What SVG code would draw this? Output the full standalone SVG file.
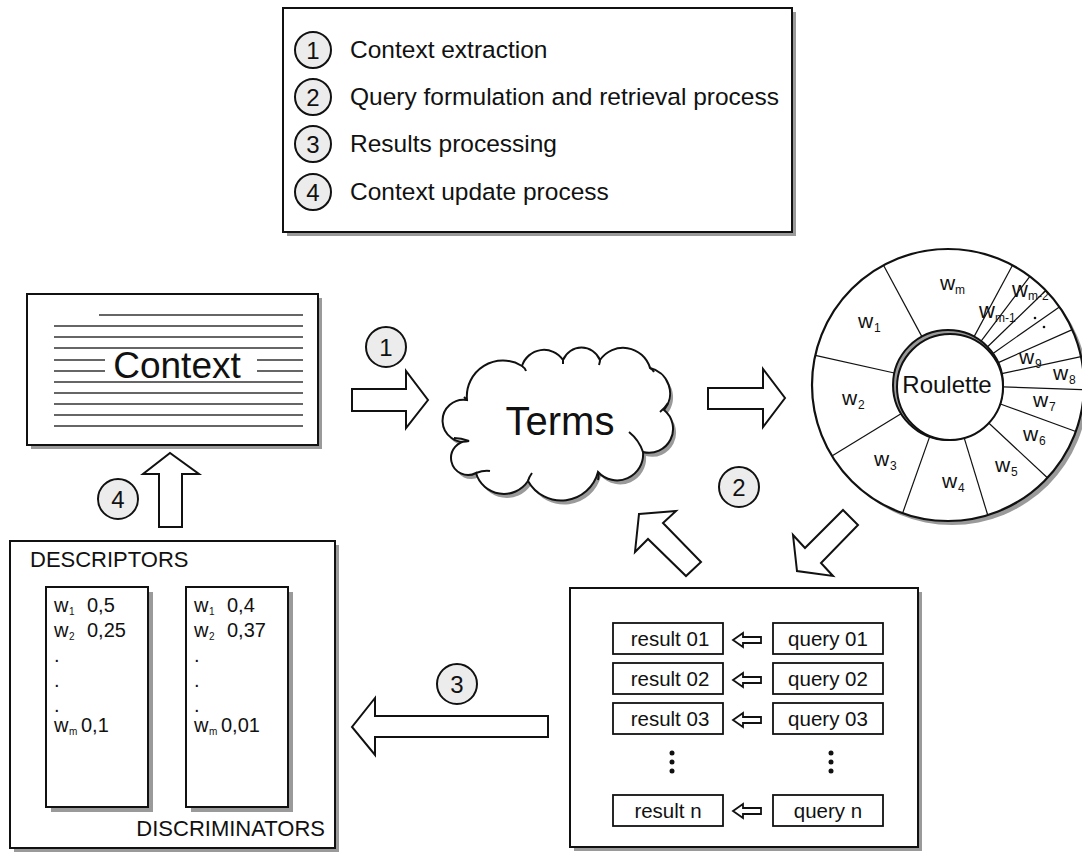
<svg xmlns="http://www.w3.org/2000/svg" width="1082" height="852" viewBox="0 0 1082 852">
<style>
.box{fill:#fff;stroke:#111;stroke-width:2}
.sh{fill:#9a9a9a;stroke:none}
.ln{stroke:#333;stroke-width:1.3}
.t{font-family:"Liberation Sans",Arial,sans-serif;fill:#111}
.num{fill:#ececec;stroke:#111;stroke-width:2}
.arr{fill:#fff;stroke:#111;stroke-width:2;stroke-linejoin:miter}
.sp{stroke:#111;stroke-width:1.2}
</style>
<rect width="1082" height="852" fill="#fff"/>

<g id="legend">
<rect class="sh" x="287" y="12" width="509" height="224"/>
<rect class="box" x="283" y="8" width="509" height="224"/>
<circle class="num" cx="313" cy="50" r="18"/><text class="t" x="313" y="58.5" font-size="24" text-anchor="middle">1</text>
<circle class="num" cx="313" cy="97" r="18"/><text class="t" x="313" y="105.5" font-size="24" text-anchor="middle">2</text>
<circle class="num" cx="313" cy="144" r="18"/><text class="t" x="313" y="152.5" font-size="24" text-anchor="middle">3</text>
<circle class="num" cx="313" cy="192" r="18"/><text class="t" x="313" y="200.5" font-size="24" text-anchor="middle">4</text>
<text class="t" x="350" y="58" font-size="24.5">Context extraction</text>
<text class="t" x="350" y="105" font-size="24.5">Query formulation and retrieval process</text>
<text class="t" x="350" y="152" font-size="24.5">Results processing</text>
<text class="t" x="350" y="200" font-size="24.5">Context update process</text>
</g>

<g id="context">
<rect class="sh" x="31" y="298" width="291" height="151"/>
<rect class="box" x="27" y="294" width="291" height="151"/>
<line class="ln" x1="99" y1="315" x2="303" y2="315"/>
<line class="ln" x1="54" y1="326" x2="303" y2="326"/>
<line class="ln" x1="54" y1="337" x2="303" y2="337"/>
<line class="ln" x1="54" y1="348" x2="303" y2="348"/>
<line class="ln" x1="54" y1="360" x2="105" y2="360"/>
<line class="ln" x1="257" y1="360" x2="303" y2="360"/>
<line class="ln" x1="54" y1="371" x2="105" y2="371"/>
<line class="ln" x1="257" y1="371" x2="303" y2="371"/>
<line class="ln" x1="54" y1="382" x2="303" y2="382"/>
<line class="ln" x1="54" y1="393" x2="303" y2="393"/>
<line class="ln" x1="54" y1="404" x2="303" y2="404"/>
<line class="ln" x1="54" y1="415" x2="303" y2="415"/>
<line class="ln" x1="54" y1="426" x2="303" y2="426"/>
<rect x="108" y="350" width="146" height="30" fill="#fff"/>
<text class="t" x="177" y="378" font-size="37" text-anchor="middle">Context</text>
</g>

<g id="terms">
<path class="sh" transform="translate(3,4)" d="M467,400 A36,36 0 0,1 522,366 A23,23 0 0,1 563,360 A20,20 0 0,1 600,360 A28,28 0 0,1 650,368 A26,26 0 0,1 664,410 A24,24 0 0,1 643,452 A26,26 0 0,1 598,472 A38,38 0 0,1 528,481 A29,29 0 0,1 476,473 A17,17 0 1,1 469,441 A21,21 0 1,1 467,400 Z"/>
<path fill="#fff" stroke="#111" stroke-width="2" d="M467,400 A36,36 0 0,1 522,366 A23,23 0 0,1 563,360 A20,20 0 0,1 600,360 A28,28 0 0,1 650,368 A26,26 0 0,1 664,410 A24,24 0 0,1 643,452 A26,26 0 0,1 598,472 A38,38 0 0,1 528,481 A29,29 0 0,1 476,473 A17,17 0 1,1 469,441 A21,21 0 1,1 467,400 Z"/>
<path fill="none" stroke="#111" stroke-width="2" d="M522,366 q3,2 4,5 M563,360 q0,2 0,4 M600,360 q0,2 -1,5 M650,368 q3,2 4,4 M668,403 q-3,5 -8,9 M643,452 q-4,-12 -14,-20 M598,472 q1,4 0,8 M528,481 q1,-4 4,-8 M476,473 q8,-3 14,-2 M469,441 q-8,-3 -15,-3 M467,400 q-2,-2 -3,-3"/>
<text class="t" x="560" y="435" font-size="40" text-anchor="middle">Terms</text>
</g>

<g id="roulette">
<circle class="sh" cx="952" cy="389" r="136"/>
<circle cx="948" cy="385" r="136" fill="#fff" stroke="#111" stroke-width="2.2"/>
<g class="sp">
<line x1="921.9" y1="336.6" x2="883.5" y2="265.3"/>
<line x1="974.1" y1="336.6" x2="1012.5" y2="265.3"/>
<line x1="981.1" y1="341.1" x2="1029.9" y2="276.4"/>
<line x1="987.6" y1="346.8" x2="1045.8" y2="290.5"/>
<line x1="993.0" y1="353.4" x2="1059.4" y2="306.9"/>
<line x1="998.3" y1="362.6" x2="1072.3" y2="329.6"/>
<line x1="1001.8" y1="373.6" x2="1081.0" y2="356.7"/>
<line x1="1002.9" y1="386.9" x2="1083.9" y2="389.7"/>
<line x1="999.7" y1="403.8" x2="1075.8" y2="431.5"/>
<line x1="988.2" y1="422.5" x2="1047.4" y2="477.8"/>
<line x1="964.1" y1="437.6" x2="987.7" y2="515.0"/>
<line x1="929.6" y1="436.9" x2="902.6" y2="513.2"/>
<line x1="901.0" y1="413.7" x2="831.9" y2="455.9"/>
<line x1="894.3" y1="373.0" x2="815.3" y2="355.4"/>
</g>
<circle cx="948" cy="385" r="55" fill="#999" stroke="#111" stroke-width="2"/>
<circle cx="950" cy="387" r="53" fill="#fff" stroke="#111" stroke-width="2"/>
<text class="t" x="947" y="393" font-size="24" text-anchor="middle">Roulette</text>
<g class="t" font-size="21">
<text x="940" y="290">w</text><text x="955" y="294" font-size="12">m</text>
<text x="858" y="328">w</text><text x="874" y="332" font-size="12">1</text>
<text x="842" y="405">w</text><text x="858" y="409" font-size="12">2</text>
<text x="874" y="466">w</text><text x="890" y="470" font-size="12">3</text>
<text x="942" y="488">w</text><text x="958" y="492" font-size="12">4</text>
<text x="995" y="472">w</text><text x="1011" y="476" font-size="12">5</text>
<text x="1023" y="441">w</text><text x="1039" y="445" font-size="12">6</text>
<text x="1033" y="407">w</text><text x="1049" y="411" font-size="12">7</text>
<text x="1053" y="380">w</text><text x="1069" y="384" font-size="12">8</text>
<text x="1019" y="364">w</text><text x="1035" y="368" font-size="12">9</text>
<text x="979" y="318" font-size="22">w</text><text x="995" y="322" font-size="12">m-1</text>
<text x="1012" y="297" font-size="22">w</text><text x="1028" y="300" font-size="12">m-2</text>
<circle cx="1035" cy="318" r="1.3"/><circle cx="1044" cy="327" r="1.3"/>
</g>
</g>

<g id="descriptors">
<rect class="sh" x="14" y="545" width="325" height="307"/>
<rect class="box" x="10" y="541" width="325" height="307"/>
<text class="t" x="30" y="567" font-size="22">DESCRIPTORS</text>
<text class="t" x="325" y="836" font-size="22" text-anchor="end">DISCRIMINATORS</text>
<rect class="sh" x="51" y="592" width="102" height="220"/>
<rect class="box" x="46" y="587" width="102" height="220"/>
<rect class="sh" x="191" y="592" width="102" height="220"/>
<rect class="box" x="186" y="587" width="102" height="220"/>
<g class="t" font-size="20">
<text x="54" y="612">w</text><text x="69" y="615" font-size="10">1</text><text x="87" y="612">0,5</text>
<text x="54" y="637">w</text><text x="69" y="640" font-size="10">2</text><text x="87" y="637">0,25</text>
<text x="54" y="662">.</text><text x="54" y="687">.</text><text x="54" y="712">.</text>
<text x="54" y="732">w</text><text x="69" y="735" font-size="10">m</text><text x="81" y="732">0,1</text>
<text x="194" y="612">w</text><text x="209" y="615" font-size="10">1</text><text x="227" y="612">0,4</text>
<text x="194" y="637">w</text><text x="209" y="640" font-size="10">2</text><text x="227" y="637">0,37</text>
<text x="194" y="662">.</text><text x="194" y="687">.</text><text x="194" y="712">.</text>
<text x="194" y="732">w</text><text x="209" y="735" font-size="10">m</text><text x="221" y="732">0,01</text>
</g>
</g>

<g id="results">
<rect class="sh" x="574" y="592" width="348" height="259"/>
<rect class="box" x="570" y="588" width="348" height="259"/>
<g fill="#fff" stroke="#111" stroke-width="1.8">
<rect x="613" y="623" width="110" height="31"/><rect x="773" y="623" width="110" height="31"/>
<rect x="613" y="663" width="110" height="31"/><rect x="773" y="663" width="110" height="31"/>
<rect x="613" y="703" width="110" height="31"/><rect x="773" y="703" width="110" height="31"/>
<rect x="613" y="795" width="110" height="31"/><rect x="773" y="795" width="110" height="31"/>
</g>
<g class="t" font-size="20.5" text-anchor="middle">
<text x="670" y="646">result 01</text><text x="828" y="646">query 01</text>
<text x="670" y="686">result 02</text><text x="828" y="686">query 02</text>
<text x="670" y="726">result 03</text><text x="828" y="726">query 03</text>
<text x="668" y="818">result n</text><text x="828" y="818">query n</text>
</g>
<g fill="#111">
<circle cx="672" cy="753" r="2.5"/><circle cx="672" cy="762" r="2.5"/><circle cx="672" cy="771" r="2.5"/>
<circle cx="831" cy="753" r="2.5"/><circle cx="831" cy="762" r="2.5"/><circle cx="831" cy="771" r="2.5"/>
</g>
<g fill="#fff" stroke="#111" stroke-width="1.8">
<path d="M733,640 L743,633 L743,637 L761,637 L761,643 L743,643 L743,647 Z"/>
<path d="M733,680 L743,673 L743,677 L761,677 L761,683 L743,683 L743,687 Z"/>
<path d="M733,720 L743,713 L743,717 L761,717 L761,723 L743,723 L743,727 Z"/>
<path d="M733,811 L743,804 L743,808 L761,808 L761,814 L743,814 L743,818 Z"/>
</g>
</g>

<g id="connectors">
<path class="arr" d="M352,389 L406,389 L406,371 L428,400 L406,428 L406,411 L352,411 Z"/>
<path class="arr" d="M708,388 L763,388 L763,369 L785,398 L763,427 L763,409 L708,409 Z"/>
<path class="arr" d="M843,510 L858,525 L821,563 L833,576 L797,571 L793,535 L805,548 Z"/>
<path class="arr" d="M639,514 L676,511 L663,523 L701,562 L686,576 L648,539 L635,552 Z"/>
<path class="arr" d="M548,716 L375,716 L375,698 L352,727 L375,755 L375,737 L548,737 Z"/>
<path class="arr" d="M159,527 L159,474 L143,474 L170,453 L199,474 L182,474 L182,527 Z"/>
</g>

<g id="step-labels">
<circle class="num" cx="386" cy="347" r="20"/><text class="t" x="386" y="355.5" font-size="24" text-anchor="middle">1</text>
<circle class="num" cx="739" cy="487" r="20"/><text class="t" x="739" y="495.5" font-size="24" text-anchor="middle">2</text>
<circle class="num" cx="457" cy="684" r="20"/><text class="t" x="457" y="692.5" font-size="24" text-anchor="middle">3</text>
<circle class="num" cx="118" cy="499" r="20"/><text class="t" x="118" y="507.5" font-size="24" text-anchor="middle">4</text>
</g>
</svg>
